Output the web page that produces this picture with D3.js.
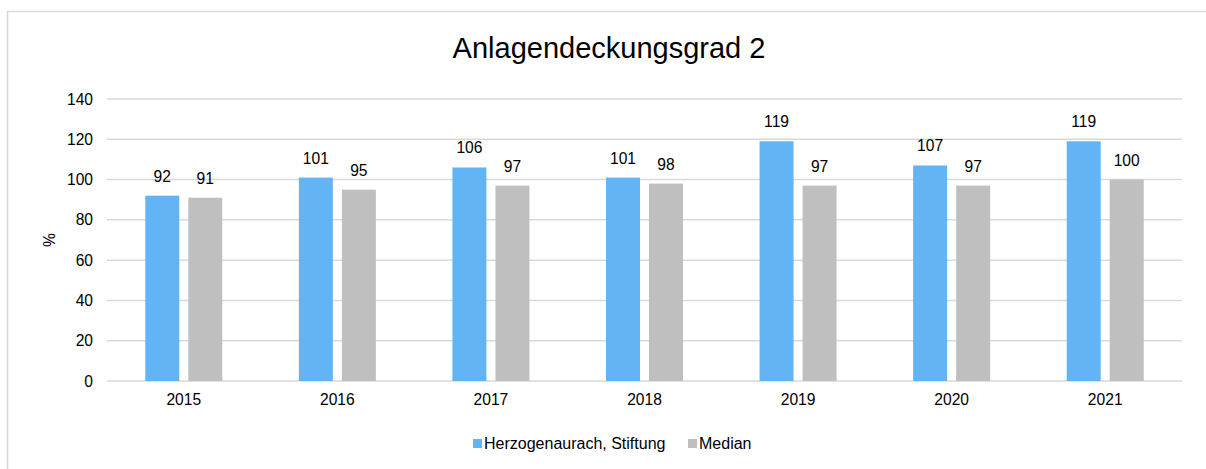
<!DOCTYPE html>
<html>
<head>
<meta charset="utf-8">
<script src="https://cdn.jsdelivr.net/npm/d3@7"></script>
<style>
  body { margin: 0; background: #fff; }
  text { font-family: Arial, 'Liberation Sans', sans-serif; fill: #000; }
</style>
</head>
<body>
<script>
// chart data
let years = ['2015', '2016', '2017', '2018', '2019', '2020', '2021']
let seriesNames = ['Herzogenaurach, Stiftung', 'Median']
let stiftung = [92, 101, 106, 101, 119, 107, 119]
let median = [91, 95, 97, 98, 97, 97, 100]
let yTicks = [0, 20, 40, 60, 80, 100, 120, 140]
let colors = ['#63b4f5', '#bfbfbf']

let width = 1206
let height = 469
let plotLeft = 107
let plotRight = 1182
let plotTop = 99
let plotBottom = 381
let fontSize = 15.6

let svg = d3.select('body')
  .append('svg')
  .attr('width', width)
  .attr('height', height)

// chart border
svg.append('rect')
  .attr('x', 7.5)
  .attr('y', 11.5)
  .attr('width', 1205)
  .attr('height', 470)
  .attr('fill', 'none')
  .attr('stroke', '#d9d9d9')
  .attr('stroke-width', 1.5)

let scaleX = d3.scaleBand()
  .domain(years)
  .range([plotLeft, plotRight])

let bw = scaleX.bandwidth()
let groupW = 77
let scaleX1 = d3.scaleBand()
  .domain(seriesNames)
  .range([(bw - groupW) / 2, (bw + groupW) / 2])
  .paddingInner(0.21)

let scaleY = d3.scaleLinear()
  .domain([0, 140])
  .range([plotBottom, plotTop])

// gridlines
svg.selectAll('line.grid')
  .data(yTicks)
  .enter()
  .append('line')
  .attr('class', 'grid')
  .attr('x1', plotLeft)
  .attr('x2', plotRight)
  .attr('y1', d => scaleY(d))
  .attr('y2', d => scaleY(d))
  .attr('stroke', '#d9d9d9')
  .attr('stroke-width', 1.5)

// y axis labels
let yAxis = d3.axisLeft(scaleY).tickValues(yTicks).tickSize(0).tickPadding(14)
let gy = svg.append('g')
  .attr('transform', 'translate(' + plotLeft + ',0)')
  .call(yAxis)
gy.select('.domain').remove()
gy.selectAll('text')
  .attr('font-size', fontSize)
  .attr('font-family', 'Arial, Liberation Sans, sans-serif')
  .attr('fill', '#000')

// x axis labels
let xAxis = d3.axisBottom(scaleX).tickSize(0).tickPadding(13)
let gx = svg.append('g')
  .attr('transform', 'translate(0,' + plotBottom + ')')
  .call(xAxis)
gx.select('.domain').remove()
gx.selectAll('text')
  .attr('font-size', fontSize)
  .attr('font-family', 'Arial, Liberation Sans, sans-serif')
  .attr('fill', '#000')

// bars
let rows = years.map((y, i) => ({ year: y, values: [stiftung[i], median[i]] }))
let groups = svg.selectAll('g.year')
  .data(rows)
  .enter()
  .append('g')
  .attr('class', 'year')
  .attr('transform', d => 'translate(' + scaleX(d.year) + ',0)')

groups.selectAll('rect')
  .data(d => d.values.map((v, j) => ({ name: seriesNames[j], value: v, j: j })))
  .enter()
  .append('rect')
  .attr('x', d => scaleX1(d.name))
  .attr('width', scaleX1.bandwidth())
  .attr('y', d => scaleY(d.value))
  .attr('height', d => plotBottom - scaleY(d.value))
  .attr('fill', d => colors[d.j])

groups.selectAll('text')
  .data(d => d.values.map((v, j) => ({ name: seriesNames[j], value: v })))
  .enter()
  .append('text')
  .attr('x', d => scaleX1(d.name) + scaleX1.bandwidth() / 2)
  .attr('y', d => scaleY(d.value) - 14)
  .attr('text-anchor', 'middle')
  .attr('font-size', fontSize)
  .text(d => d.value)

// title
svg.append('text')
  .attr('x', 609)
  .attr('y', 58)
  .attr('text-anchor', 'middle')
  .attr('font-size', 29)
  .text('Anlagendeckungsgrad 2')

// y axis title
svg.append('text')
  .attr('transform', 'translate(55,240) rotate(-90)')
  .attr('text-anchor', 'middle')
  .attr('font-size', fontSize)
  .text('%')

// legend
let legendX = [473, 688]
let legend = svg.selectAll('g.legend')
  .data(seriesNames)
  .enter()
  .append('g')
  .attr('class', 'legend')
  .attr('transform', (d, i) => 'translate(' + legendX[i] + ',439)')

legend.append('rect')
  .attr('width', 9)
  .attr('height', 9)
  .attr('fill', (d, i) => colors[i])

legend.append('text')
  .attr('x', 11)
  .attr('y', 9.5)
  .attr('font-size', 16)
  .text(d => d)
</script>
</body>
</html>
